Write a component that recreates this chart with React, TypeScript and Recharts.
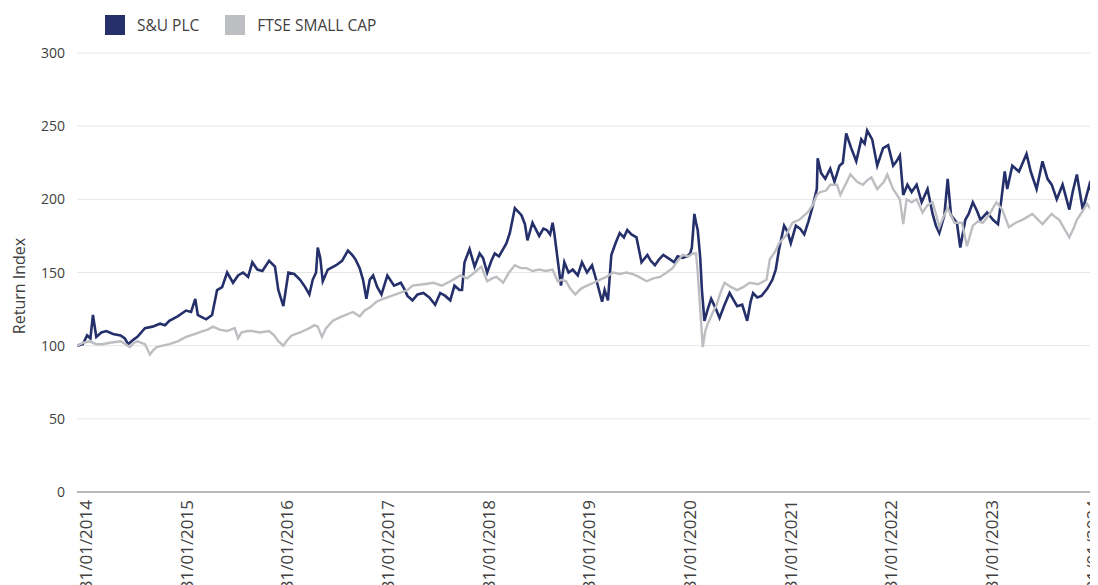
import React from "react";
import { LineChart, Line, XAxis, YAxis, CartesianGrid } from "recharts";

// months since 31/01/2014; the series run on a little past 31/01/2024
const suMonths = [
  0, 0.7, 1.2, 1.6, 1.9, 2.3, 2.9, 3.5, 4.3, 5.2, 5.7, 6.1, 6.7, 7.2, 8.1, 9, 9.9, 10.5, 11, 12,
  13, 13.6, 14.1, 14.4, 14.7, 15.4, 16.1, 16.7, 17.3, 17.9, 18.6, 19.2, 19.8, 20.4, 20.9, 21.5, 22.1, 22.9, 23.6, 24,
  24.6, 25.2, 25.9, 26.6, 27.2, 27.7, 28.1, 28.5, 28.7, 29, 29.3, 29.9, 30.9, 31.6, 32.3, 32.8, 33.2, 33.7, 34.1, 34.5,
  34.9, 35.3, 35.8, 36.3, 37, 37.8, 38.6, 39, 39.4, 40, 40.6, 41.3, 42, 42.7, 43.3, 43.9, 44.5, 45, 45.6, 45.9,
  46.2, 46.8, 47.4, 48, 48.4, 48.9, 49.4, 49.8, 50.3, 50.8, 51.2, 51.6, 52.2, 52.7, 53, 53.4, 53.7, 54.3, 55.1, 55.6,
  56, 56.4, 56.7, 56.9, 57.3, 57.7, 58.1, 58.6, 59.1, 59.7, 60.2, 60.8, 61.4, 62, 62.6, 62.9, 63.3, 63.7, 64.2, 64.7,
  65.2, 65.6, 66.1, 66.7, 67.3, 68, 68.4, 68.9, 69.4, 69.9, 70.7, 71.2, 71.6, 72.2, 72.7, 73.1, 73.3, 73.6, 73.8, 74,
  74.3, 74.5, 74.8, 75.2, 75.6, 76.1, 76.6, 77.2, 77.8, 78.3, 78.7, 79.3, 79.9, 80.3, 80.6, 81.1, 81.6, 82.3, 82.9, 83.3,
  83.7, 84.3, 84.7, 85.1, 85.7, 86.2, 86.7, 87.2, 87.6, 88.2, 88.3, 88.7, 89.2, 89.8, 90.3, 90.9, 91.3, 91.7, 92.3, 92.9,
  93.5, 93.9, 94.2, 94.8, 95.4, 96.1, 96.7, 97.3, 97.7, 98.1, 98.5, 99, 99.5, 100.1, 100.7, 101.4, 102, 102.4, 102.8, 103.4,
  103.8, 104.2, 104.9, 105.3, 105.9, 106.3, 106.8, 107.3, 107.7, 108.5, 109.2, 109.8, 110.2, 110.6, 110.9, 111.5, 112.3, 113.2, 113.7, 114.4,
  115.1, 115.7, 116.2, 116.8, 117.5, 118.3, 118.7, 119.2, 119.9, 120.7, 121.4,
];
const suValues = [
  100, 101, 107, 105, 121, 106, 109, 110, 108, 107, 105, 101, 104, 106, 112, 113, 115, 114, 117, 120,
  124, 123, 132, 121, 120, 118, 121, 138, 140, 150, 143, 148, 150, 147, 157, 152, 151, 158, 154, 138,
  127, 150, 149, 145, 140, 135, 145, 150, 167, 160, 144, 152, 155, 158, 165, 162, 159, 153, 145, 132,
  145, 148, 140, 135, 148, 141, 143, 139, 134, 131, 135, 136, 133, 128, 136, 134, 131, 141, 138, 138,
  157, 166, 154, 163, 160, 150, 158, 163, 161, 166, 170, 177, 194, 191, 189, 183, 172, 184, 175, 180,
  179, 176, 184, 177, 159, 141, 157, 150, 152, 148, 157, 150, 155, 143, 130, 138, 131, 162, 170, 177,
  174, 179, 176, 174, 157, 162, 158, 155, 159, 162, 159, 157, 161, 160, 161, 163, 167, 190, 184, 179,
  160, 138, 117, 125, 132, 126, 119, 128, 136, 131, 127, 128, 117, 130, 136, 133, 134, 139, 145, 152,
  166, 182, 178, 170, 182, 180, 176, 185, 193, 207, 228, 218, 214, 221, 212, 223, 225, 245, 235, 226,
  241, 238, 247, 241, 223, 235, 237, 223, 226, 230, 203, 210, 205, 210, 198, 207, 190, 182, 177, 189,
  214, 189, 184, 167, 186, 190, 198, 192, 186, 191, 186, 183, 200, 219, 207, 223, 219, 231, 219, 207,
  226, 214, 210, 200, 210, 193, 205, 217, 193, 210, 197,
];

const ftseMonths = [
  0, 0.8, 1.5, 2.3, 3, 3.9, 5.2, 5.8, 6.3, 6.8, 7.2, 8.1, 8.7, 9.1, 9.5, 10.2, 11, 12, 13, 14.1,
  15, 15.6, 16.2, 17, 17.9, 18.8, 19.2, 19.6, 20.3, 20.9, 21.8, 22.9, 23.5, 24, 24.6, 25.1, 25.6, 26.6, 27.7, 28.3,
  28.7, 29.2, 29.7, 30.5, 31.6, 32.9, 33.7, 34.3, 34.9, 35.7, 36.5, 37.5, 38.5, 39.4, 40, 41.3, 42.5, 43.5, 44.5, 45.1,
  45.7, 46.5, 47.4, 48.2, 48.9, 49.5, 50, 50.8, 51.5, 52.2, 52.9, 53.6, 54.3, 55.1, 55.9, 56.7, 57.3, 57.8, 58.3, 58.8,
  59.4, 60.1, 60.8, 61.6, 62.3, 63.1, 63.9, 64.7, 65.5, 66.2, 67, 67.9, 68.7, 69.5, 70.3, 71, 71.6, 72.2, 72.9, 73.4,
  73.8, 74, 74.3, 74.6, 74.9, 75.2, 75.9, 76.2, 76.7, 77.2, 78, 78.7, 79.4, 80.2, 81.2, 82.2, 82.6, 83.2, 83.7, 84.5,
  85.3, 86.1, 87.1, 87.7, 88.2, 88.6, 89.3, 89.8, 90.6, 91, 91.6, 92.2, 93, 93.7, 94.2, 94.7, 95.4, 96.2, 96.6, 97.3,
  98.1, 98.5, 98.9, 99.5, 100.1, 100.8, 101.4, 102, 102.4, 102.8, 103.3, 103.8, 104.6, 105.5, 106.1, 106.5, 106.8, 107.4, 108, 108.8,
  109.6, 110.3, 111.1, 111.9, 112.7, 113.3, 113.9, 114.6, 115.1, 115.7, 116.2, 116.6, 117.1, 117.7, 118.3, 118.8, 119.2, 119.9, 120.4, 120.9,
  121.4,
];
const ftseValues = [
  100, 102, 103, 101, 101, 102, 103, 101, 99, 102, 103, 101, 94, 97, 99, 100, 101, 103, 106, 108,
  110, 111, 113, 111, 110, 112, 105, 109, 110, 110, 109, 110, 107, 103, 100, 104, 107, 109, 112, 114,
  113, 106, 112, 117, 120, 123, 120, 124, 126, 130, 132, 134, 136, 138, 141, 142, 143, 141, 144, 146,
  148, 146, 150, 154, 144, 146, 147, 143, 150, 155, 153, 153, 151, 152, 151, 152, 144, 145, 144, 139,
  135, 139, 141, 143, 145, 147, 150, 149, 150, 149, 147, 144, 146, 147, 150, 153, 158, 162, 161, 163,
  163, 150, 125, 99, 110, 115, 124, 127, 136, 143, 140, 138, 140, 143, 142, 145, 159, 164, 170, 175,
  184, 186, 191, 196, 203, 205, 206, 210, 210, 203, 210, 217, 212, 210, 213, 215, 207, 212, 217, 207,
  200, 183, 200, 198, 200, 191, 196, 198, 190, 181, 188, 194, 184, 184, 168, 176, 182, 185, 184, 190,
  198, 193, 181, 184, 186, 188, 190, 186, 183, 187, 190, 188, 186, 180, 174, 180, 186, 192, 197, 193,
  191,
];

const yearTicks = [0, 12, 24, 36, 48, 60, 72, 84, 96, 108, 120];
const yTicks = [0, 50, 100, 150, 200, 250, 300];

const suData = suMonths.map((m, i) => ({ m, v: suValues[i] }));
const ftseData = ftseMonths.map((m, i) => ({ m, v: ftseValues[i] }));

const NAVY = "#25306b";
const GREY = "#bdbec2";
const TEXT = "#404040";
const FONT = "'Open Sans', sans-serif";

const DateTick = ({ x, payload }: any) => (
  <g transform={`translate(${x + 15},492)`}>
    <text transform="rotate(-90)" textAnchor="end" fontSize={17} fill={TEXT} fontFamily={FONT}>
      {`31/01/${2014 + payload.value / 12}`}
    </text>
  </g>
);

const ValueTick = ({ y, payload }: any) => (
  <text x={57} y={y} dy="0.36em" textAnchor="end" fontSize={14} fill={TEXT} fontFamily={FONT}>
    {payload.value}
  </text>
);

const LegendItem = ({ color, label }: { color: string; label: string }) => (
  <div style={{ display: "flex", alignItems: "center", marginRight: 26 }}>
    <div style={{ width: 20, height: 20, background: color, marginRight: 12 }} />
    <span style={{ fontSize: 15.5, color: TEXT, fontFamily: FONT }}>{label}</span>
  </div>
);

export default function App() {
  // the date labels run past the bottom edge, as in the original; clip so the page doesn't scroll
  return (
    <div style={{ position: "relative", width: 1090, height: 577, overflow: "hidden" }}>
      <div style={{ position: "absolute", left: 97, top: 6, display: "flex", zIndex: 1 }}>
        <LegendItem color={NAVY} label="S&U PLC" />
        <LegendItem color={GREY} label="FTSE SMALL CAP" />
      </div>
      <LineChart width={1090} height={640} margin={{ top: 45, right: 1, bottom: 0, left: 0 }}>
        <CartesianGrid vertical={false} stroke="#e6e6e6" />
        <XAxis
          type="number"
          dataKey="m"
          domain={[0, 121.6]}
          ticks={yearTicks}
          tick={<DateTick />}
          tickLine={false}
          axisLine={{ stroke: "#a6a6a6", strokeWidth: 1.5 }}
          height={156}
          interval={0}
          allowDataOverflow
        />
        <YAxis
          domain={[0, 300]}
          ticks={yTicks}
          tick={<ValueTick />}
          tickLine={false}
          axisLine={false}
          width={69}
          label={() => (
            <text
              transform="translate(17,278) rotate(-90)"
              textAnchor="middle"
              fontSize={16}
              fill={TEXT}
              fontFamily={FONT}
            >
              Return Index
            </text>
          )}
        />
        <Line
          data={suData}
          dataKey="v"
          stroke={NAVY}
          strokeWidth={2.6}
          dot={false}
          isAnimationActive={false}
        />
        <Line
          data={ftseData}
          dataKey="v"
          stroke={GREY}
          strokeWidth={2.4}
          dot={false}
          isAnimationActive={false}
        />
      </LineChart>
    </div>
  );
}
